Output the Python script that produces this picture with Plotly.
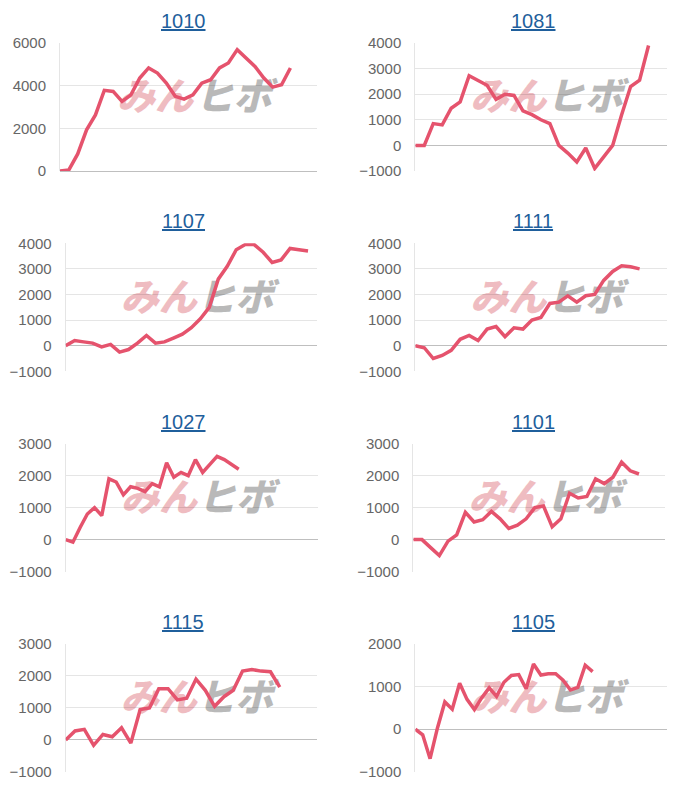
import plotly.graph_objects as go

W, H = 700, 800
PAGE_MARGIN = 8  # browser body margin around the plot div

codes = ["1010", "1081", "1107", "1111", "1027", "1101", "1115", "1105"]

s1010 = [0, 50, 800, 1930, 2630, 3780, 3730, 3260, 3570, 4360, 4830, 4590, 4120, 3500,
         3370, 3570, 4120, 4280, 4830, 5060, 5690, 5300, 4900, 4360, 3930, 4040, 4830]
s1081 = [0, 0, 850, 800, 1450, 1700, 2720, 2550, 2350, 1800, 2000, 1950, 1350, 1200,
         1000, 850, 0, -300, -650, -100, -900, -450, 0, 1200, 2300, 2550, 3900]
s1107 = [0, 200, 150, 100, -50, 50, -250, -150, 100, 400, 100, 150, 300, 450,
         700, 1050, 1500, 2600, 3100, 3750, 3950, 3950, 3650, 3250, 3350, 3800, 3750, 3700]
s1111 = [0, -80, -500, -380, -180, 250, 400, 200, 650, 750, 350, 700, 650, 1000,
         1100, 1650, 1700, 1950, 1700, 1950, 2000, 2550, 2900, 3120, 3080, 3000]
s1027 = [0, -80, 380, 800, 1000, 750, 1900, 1800, 1400, 1650, 1600, 1500, 1750,
         1650, 2400, 1950, 2100, 2000, 2500, 2100, 2350, 2600, 2500, 2350, 2200]
s1101 = [0, 0, -250, -500, -50, 150, 850, 550, 620, 880, 650, 350, 450, 650,
         1000, 1050, 400, 650, 1450, 1300, 1350, 1900, 1750, 1950, 2420, 2150, 2050]
s1115 = [0, 280, 330, -170, 170, 100, 380, -100, 950, 1000, 1600, 1600,
         1250, 1300, 1900, 1550, 1050, 1350, 1550, 2150, 2200, 2150, 2130, 1650]
s1105 = [0, -130, -690, 30, 640, 470, 1080, 700, 460, 740, 970, 770, 1100,
         1260, 1280, 950, 1530, 1270, 1300, 1300, 1150, 920, 980, 1500, 1350]

series = [s1010, s1081, s1107, s1111, s1027, s1101, s1115, s1105]
n_days = [30, 29, 29, 29, 36, 30, 28, 35]
y_min = [0, -1000, -1000, -1000, -1000, -1000, -1000, -1000]
y_max = [6000, 4000, 4000, 4000, 3000, 3000, 3000, 2000]
y_step = [2000, 1000, 1000, 1000, 1000, 1000, 1000, 1000]

# layout (screen pixels)
left_px = [60, 415.3, 65.7, 415.3, 65.7, 413.3, 65.7, 415.3]
right_px = [317, 666.5, 317, 666.5, 318, 665, 317, 666.5]
title_x_px = [183, 533]


def px_x(v):
    return (v - PAGE_MARGIN) / W


def px_y(v):
    return 1 - (v - PAGE_MARGIN) / H


LINE = "#e5536d"
fig = go.Figure()
layout = dict(width=W, height=H, margin=dict(l=0, r=0, t=0, b=0, autoexpand=False),
              plot_bgcolor="white", paper_bgcolor="white", showlegend=False)
annotations = []
shapes = []

for i, (code, vals) in enumerate(zip(codes, series)):
    r, c = divmod(i, 2)
    top = 43 + 200.3 * r
    bot = 171 + 200.3 * r
    k = "" if i == 0 else str(i + 1)
    xa, ya = "x" + k, "y" + k
    fig.add_trace(go.Scatter(x=list(range(len(vals))), y=vals, mode="lines",
                             line=dict(color=LINE, width=3.5), xaxis=xa, yaxis=ya,
                             hoverinfo="skip"))
    layout["xaxis" + k] = dict(domain=[px_x(left_px[i]), px_x(right_px[i])], range=[0, n_days[i] - 1],
                               showticklabels=False, showgrid=False, zeroline=False,
                               showline=False, fixedrange=True, anchor=ya, automargin=False)
    layout["yaxis" + k] = dict(domain=[px_y(bot), px_y(top)], range=[y_min[i], y_max[i]],
                               dtick=y_step[i], tick0=0, showgrid=True,
                               gridcolor="rgba(0,0,0,0.1)", zeroline=True,
                               zerolinecolor="rgba(0,0,0,0.25)", zerolinewidth=1,
                               showline=True, linecolor="rgba(0,0,0,0.1)", linewidth=1,
                               tickfont=dict(family="Liberation Sans", size=15, color="#666"),
                               ticklabelstandoff=10, fixedrange=True, anchor=xa, automargin=False)
    # title
    annotations.append(dict(text=code, xref="paper", yref="paper",
                            x=px_x(title_x_px[c]), y=px_y(21 + 200.3 * r),
                            xanchor="center", yanchor="middle", showarrow=False,
                            font=dict(family="Liberation Sans", size=20, color="#1f5f9c",
                                      lineposition="under")))
    # watermark (drawn beneath the line)
    wl, wr = left_px[i], right_px[i]
    wyc = top + 0.445 * (bot - top)
    for txt, frac, col in (("みん", 0.37, "#efbcc1"), ("ヒボ", 0.675, "#b9b9b9")):
        cx = wl + frac * (wr - wl)
        shapes.append(dict(type="rect", xref="paper", yref="paper", layer="between",
                           x0=px_x(cx - 45), x1=px_x(cx + 45),
                           y0=px_y(wyc + 20), y1=px_y(wyc - 20),
                           line=dict(width=0), fillcolor="rgba(0,0,0,0)",
                           label=dict(text=txt, textposition="middle center",
                                      font=dict(family="Noto Sans CJK JP", size=38, color=col,
                                                weight=900, style="italic"))))

layout["annotations"] = annotations
layout["shapes"] = shapes
fig.update_layout(**layout)
fig.write_html("out.html")
